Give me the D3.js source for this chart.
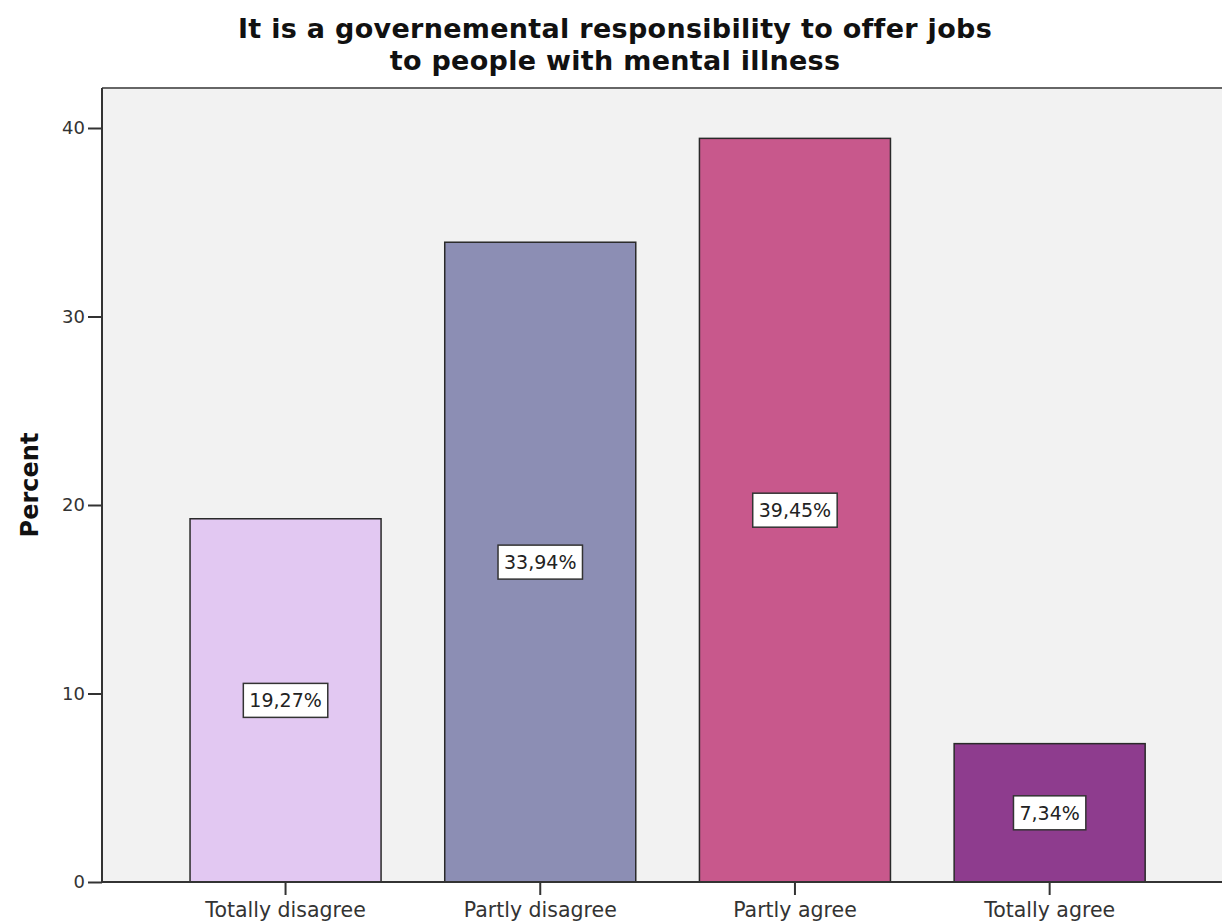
<!DOCTYPE html>
<html>
<head>
<meta charset="utf-8">
<script src="https://cdn.jsdelivr.net/npm/d3@7"></script>
<style>
  html, body { margin: 0; padding: 0; background: #fff; }
  svg { display: block; }
</style>
</head>
<body>
<script>
var titleLines = ["It is a governemental responsibility to offer jobs", "to people with mental illness"];
var categories = ["Totally disagree", "Partly disagree", "Partly agree", "Totally agree"];
var percents = [19.27, 33.94, 39.45, 7.34];
var barColors = ["#e2c8f2", "#8c8eb4", "#c8588c", "#8e3c8e"];
var yTicks = [0, 10, 20, 30, 40];
var yLabel = "Percent";

var width = 1222, height = 923;
var plot = { left: 102, right: 1222, top: 88, bottom: 882 };

var svg = d3.select("body").append("svg")
  .attr("width", width)
  .attr("height", height);

// title, two lines
svg.append("g")
  .selectAll("text")
  .data(titleLines)
  .enter()
  .append("text")
  .attr("x", 615)
  .attr("y", function(d, i) { return 38 + i * 32; })
  .attr("text-anchor", "middle")
  .attr("font-family", "'DejaVu Sans', sans-serif")
  .attr("font-weight", "bold")
  .attr("font-size", "27px")
  .attr("letter-spacing", "0.3px")
  .attr("fill", "#111")
  .text(function(d) { return d; });

var x = d3.scaleBand()
  .domain(categories)
  .range([158.2, 1177])
  .paddingInner(0.25)
  .paddingOuter(0.125);

var y = d3.scaleLinear()
  .domain([0, 40])
  .range([plot.bottom, 128]);

// plot background
svg.append("rect")
  .attr("x", plot.left)
  .attr("y", plot.top)
  .attr("width", plot.right - plot.left)
  .attr("height", plot.bottom - plot.top)
  .attr("fill", "#f2f2f2");

svg.append("line")
  .attr("x1", plot.left).attr("x2", plot.right)
  .attr("y1", plot.top).attr("y2", plot.top)
  .attr("stroke", "#666")
  .attr("stroke-width", 2);

// bars
svg.append("g").selectAll("rect")
  .data(categories)
  .enter()
  .append("rect")
  .attr("x", function(d) { return x(d); })
  .attr("y", function(d, i) { return y(percents[i]); })
  .attr("width", x.bandwidth())
  .attr("height", function(d, i) { return y(0) - y(percents[i]); })
  .attr("fill", function(d, i) { return barColors[i]; })
  .attr("stroke", "#2a2a2a")
  .attr("stroke-width", 1.5);

// axes
var yAxis = svg.append("g")
  .attr("transform", "translate(" + plot.left + ",0)")
  .call(d3.axisLeft(y).tickValues(yTicks).tickSize(14).tickPadding(3).tickSizeOuter(0));

var xAxis = svg.append("g")
  .attr("transform", "translate(0," + plot.bottom + ")")
  .call(d3.axisBottom(x).tickSize(13).tickPadding(5).tickSizeOuter(0));

xAxis.select(".domain").attr("d", "M" + plot.left + ",0H" + plot.right);
yAxis.select(".domain").attr("d", "M0," + plot.top + "V" + plot.bottom);

[xAxis, yAxis].forEach(function(ax) {
  ax.select(".domain").attr("stroke", "#333").attr("stroke-width", 2);
  ax.selectAll(".tick line").attr("stroke", "#333").attr("stroke-width", 2);
  ax.selectAll(".tick text")
    .attr("fill", "#333")
    .attr("font-family", "'DejaVu Sans', sans-serif");
});
yAxis.selectAll(".tick text").attr("font-size", "18px");
xAxis.selectAll(".tick text").attr("font-size", "20.5px").attr("dy", "0.85em");

// y axis title
svg.append("text")
  .attr("transform", "translate(38,485) rotate(-90)")
  .attr("text-anchor", "middle")
  .attr("font-family", "'DejaVu Sans', sans-serif")
  .attr("font-weight", "bold")
  .attr("font-size", "24px")
  .attr("fill", "#111")
  .text(yLabel);

// value labels
var fmt = d3.format(".2f");
var labels = svg.append("g").selectAll("g")
  .data(categories)
  .enter()
  .append("g")
  .attr("transform", function(d, i) {
    return "translate(" + (x(d) + x.bandwidth() / 2) + "," + y(percents[i] / 2) + ")";
  });

labels.each(function(d, i) {
  var g = d3.select(this);
  var box = g.append("rect");
  var t = g.append("text")
    .attr("text-anchor", "middle")
    .attr("dy", "0.36em")
    .attr("font-family", "'DejaVu Sans', sans-serif")
    .attr("font-size", "19px")
    .attr("fill", "#222")
    .text(fmt(percents[i]).replace(".", ",") + "%");
  var bb = t.node().getBBox();
  box.attr("x", bb.x - 6)
    .attr("y", -17)
    .attr("width", bb.width + 12)
    .attr("height", 34)
    .attr("fill", "#fff")
    .attr("stroke", "#333")
    .attr("stroke-width", 1.5);
});
</script>
</body>
</html>
